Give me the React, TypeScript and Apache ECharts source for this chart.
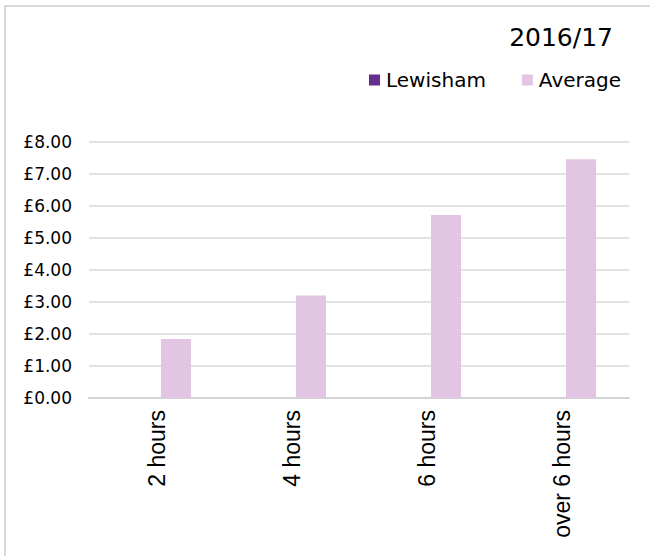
import React, { useEffect, useRef } from "react";
import * as echarts from "echarts";

const categories = ["2 hours", "4 hours", "6 hours", "over 6 hours"];
const lewishamValues = [0, 0, 0, 0];
const averageValues = [1.84, 3.2, 5.72, 7.46];
const yTicks = { min: 0, max: 8, interval: 1 };
const titleText = "2016/17";

export default function App() {
  const ref = useRef<HTMLDivElement>(null);

  useEffect(() => {
    if (!ref.current) return;
    const chart = echarts.init(ref.current, undefined, { renderer: "svg" });
    chart.setOption({
      animation: false,
      backgroundColor: "#ffffff",
      title: {
        text: titleText,
        right: 37,
        top: 25,
        padding: 0,
        textStyle: {
          fontFamily: "DejaVu Sans",
          fontSize: 25,
          fontWeight: "normal",
          color: "#000000",
        },
      },
      legend: {
        right: 29,
        top: 70,
        padding: 0,
        itemWidth: 11,
        itemHeight: 11,
        itemGap: 36,
        icon: "rect",
        textStyle: {
          fontFamily: "DejaVu Sans",
          fontSize: 20,
          color: "#000000",
          padding: [0, 0, 0, 1],
        },
        data: ["Lewisham", "Average"],
      },
      graphic: [
        {
          type: "rect",
          shape: { x: 5, y: 6, width: 700, height: 600 },
          style: { fill: "none", stroke: "#d9d9d9", lineWidth: 2 },
          silent: true,
        },
      ],
      grid: { left: 89, right: 21, top: 142, bottom: 158 },
      xAxis: {
        type: "category",
        data: categories,
        axisLine: { lineStyle: { color: "#d4d4d4", width: 2 } },
        axisTick: { show: false },
        axisLabel: {
          rotate: 90,
          margin: 12,
          fontFamily: "Liberation Sans",
          fontSize: 23,
          color: "#000000",
        },
      },
      yAxis: {
        type: "value",
        min: yTicks.min,
        max: yTicks.max,
        interval: yTicks.interval,
        axisLine: { show: false },
        axisTick: { show: false },
        splitLine: { lineStyle: { color: "#d9d9d9", width: 1.5 } },
        axisLabel: {
          margin: 17,
          fontFamily: "DejaVu Sans",
          fontSize: 17,
          color: "#000000",
          formatter: (v: number) => "£" + v.toFixed(2),
        },
      },
      series: [
        {
          name: "Lewisham",
          type: "bar",
          data: lewishamValues,
          barWidth: 30,
          barGap: "30%",
          itemStyle: { color: "#662d91" },
        },
        {
          name: "Average",
          type: "bar",
          data: averageValues,
          barWidth: 30,
          barGap: "30%",
          itemStyle: { color: "#e2c5e2" },
        },
      ],
    });
    return () => chart.dispose();
  }, []);

  return (
    <div
      ref={ref}
      style={{ position: "fixed", left: 0, top: 0, width: 650, height: 556 }}
    />
  );
}
